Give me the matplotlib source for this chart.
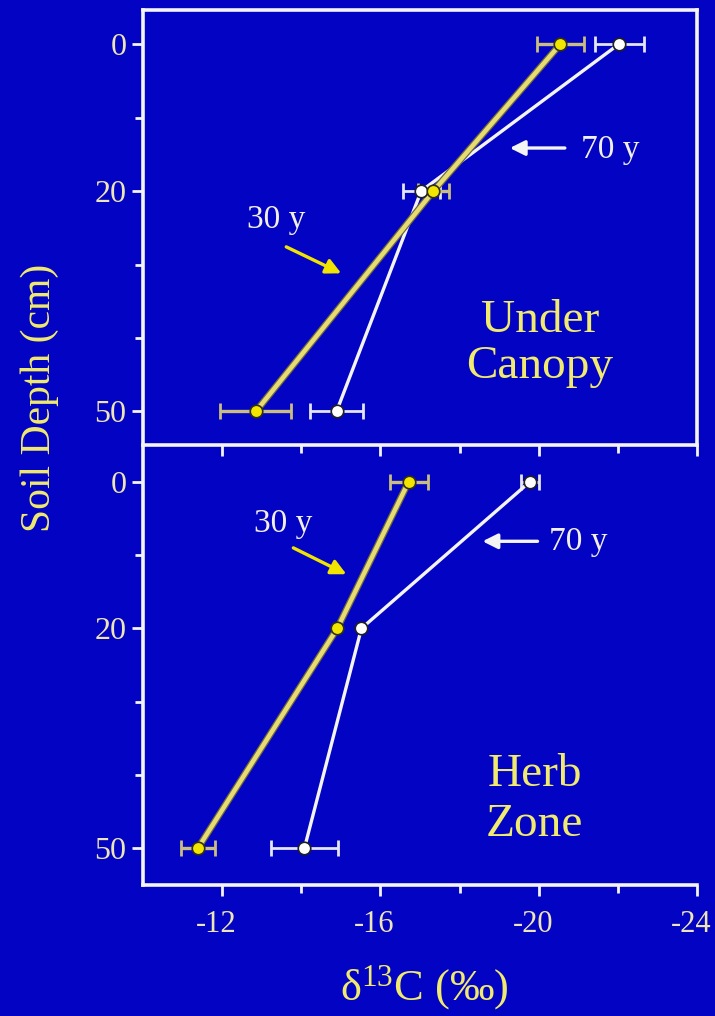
import matplotlib
matplotlib.use("Agg")
import matplotlib.pyplot as plt
import matplotlib.patheffects as pe
from matplotlib.ticker import FixedLocator
from matplotlib.transforms import ScaledTranslation

# -----------------------------
# Data
# -----------------------------
depth = [0, 20, 50]

# Under canopy
canopy_30y = [-20.55, -17.34, -12.85]
canopy_30y_err = [0.6, 0.4, 0.9]
canopy_70y = [-22.03, -17.03, -14.89]
canopy_70y_err = [0.62, 0.47, 0.66]

# Herb zone (no visible error bars at 20 cm)
herb_30y = [-16.71, -14.91, -11.39]
herb_30y_err = [0.48, 0.0, 0.44]
herb_70y = [-19.77, -15.52, -14.08]
herb_70y_err = [0.23, 0.0, 0.84]

x_ticks = [-12, -16, -20, -24]
x_minor = [-14, -18, -22]
y_ticks = [0, 20, 50]
y_minor = [10, 30, 40]

# -----------------------------
# Style
# -----------------------------
BG = "#0303C4"
YEL_LINE = "#E6DC72"
YEL_ERR = "#C9BE80"
YEL_MARK = "#F2E600"
WHITE = "#F4F4F4"
TXT_YEL = "#F0EA6E"
TICK_TXT = "#EDE6B4"
ANN_TXT = "#F2F0E4"

plt.rcParams["font.family"] = ["Liberation Serif", "DejaVu Serif"]
plt.rcParams["mathtext.default"] = "regular"

fig = plt.figure(figsize=(7.15, 10.16), dpi=100, facecolor=BG)

W, H = 715.0, 1016.0
ax_top = fig.add_axes([143 / W, 1 - 445 / H, 554 / W, 435 / H])
ax_bot = fig.add_axes([143 / W, 1 - 885 / H, 554 / W, 438 / H])


def style_axes(ax, ylim, show_xlabels, box):
    ax.set_facecolor("none")
    ax.set_xlim(-10, -24)
    ax.set_ylim(*ylim)
    for side in ["left", "right", "top", "bottom"]:
        ax.spines[side].set_color(WHITE)
        ax.spines[side].set_linewidth(2.6)
    if not box:
        ax.spines["right"].set_visible(False)
        ax.spines["top"].set_visible(False)
    ax.xaxis.set_major_locator(FixedLocator(x_ticks))
    ax.xaxis.set_minor_locator(FixedLocator(x_minor))
    ax.yaxis.set_major_locator(FixedLocator(y_ticks))
    ax.yaxis.set_minor_locator(FixedLocator(y_minor))
    ax.tick_params(which="both", direction="out", color=WHITE, width=2,
                   top=False, right=False)
    ax.tick_params(which="major", length=8)
    ax.tick_params(which="minor", length=6)
    ax.tick_params(axis="y", labelsize=23, labelcolor=TICK_TXT, pad=4)
    ax.tick_params(axis="x", labelsize=22, labelcolor=TICK_TXT, pad=10,
                   labelbottom=show_xlabels)
    ax.set_xticklabels([str(v) for v in x_ticks])
    # reference labels sit a little left of their ticks
    shift = ScaledTranslation(-0.06, 0, fig.dpi_scale_trans)
    for lab in ax.get_xticklabels():
        lab.set_transform(lab.get_transform() + shift)


def draw_series(ax, x30, e30, x70, e70):
    # 70 y (white)
    keep = [i for i, e in enumerate(e70) if e > 0]
    ax.errorbar([x70[i] for i in keep], [depth[i] for i in keep],
                xerr=[e70[i] for i in keep], fmt="none", ecolor="#E4E4F4",
                elinewidth=2, capsize=6, capthick=2, zorder=3)
    ax.plot(x70, depth, color=WHITE, lw=2.4, zorder=4)
    ax.plot(x70, depth, "o", ms=9, mfc="white", mec="#202020", mew=1.2,
            zorder=6)
    # 30 y (yellow)
    keep = [i for i, e in enumerate(e30) if e > 0]
    ax.errorbar([x30[i] for i in keep], [depth[i] for i in keep],
                xerr=[e30[i] for i in keep], fmt="none", ecolor=YEL_ERR,
                elinewidth=2.4, capsize=6, capthick=2, zorder=3)
    ax.plot(x30, depth, color=YEL_LINE, lw=3.2, zorder=5,
            path_effects=[pe.Stroke(linewidth=5, foreground="#6E6840"),
                          pe.Normal()])
    ax.plot(x30, depth, "o", ms=9, mfc=YEL_MARK, mec="#303018", mew=1.2,
            zorder=7)


def arrow(ax, tail, head, color):
    ax.annotate("", xy=head, xytext=tail,
                arrowprops=dict(arrowstyle="-|>,head_length=0.9,head_width=0.45",
                                color=color, lw=2.4, shrinkA=0, shrinkB=0))


# -----------------------------
# Top panel: Under Canopy
# -----------------------------
style_axes(ax_top, (54.56, -4.63), show_xlabels=False, box=True)
draw_series(ax_top, canopy_30y, canopy_30y_err, canopy_70y, canopy_70y_err)

ax_top.text(-21.06, 14.4, "70 y", color=ANN_TXT, fontsize=24,
            ha="left", va="center")
arrow(ax_top, (-20.66, 14.15), (-19.27, 14.15), WHITE)
ax_top.text(-12.63, 23.9, "30 y", color=ANN_TXT, fontsize=24,
            ha="left", va="center")
arrow(ax_top, (-13.62, 27.6), (-15.01, 31.2), "#F0E400")
ax_top.text(-20.03, 40.8, "Under\nCanopy", color=TXT_YEL, fontsize=34,
            ha="center", va="center", linespacing=1.12)

# -----------------------------
# Bottom panel: Herb Zone
# -----------------------------
style_axes(ax_bot, (55.05, -4.78), show_xlabels=True, box=False)
draw_series(ax_bot, herb_30y, herb_30y_err, herb_70y, herb_70y_err)

ax_bot.text(-12.81, 5.7, "30 y", color=ANN_TXT, fontsize=24,
            ha="left", va="center")
arrow(ax_bot, (-13.80, 9.0), (-15.14, 12.6), "#F0E400")
ax_bot.text(-20.25, 8.1, "70 y", color=ANN_TXT, fontsize=24,
            ha="left", va="center")
arrow(ax_bot, (-19.97, 8.1), (-18.58, 8.1), WHITE)
ax_bot.text(-19.9, 43.4, "Herb\nZone", color=TXT_YEL, fontsize=34,
            ha="center", va="center", linespacing=1.25)

# -----------------------------
# Shared axis labels
# -----------------------------
fig.text(40 / W, 1 - 398 / H, "Soil Depth (cm)", rotation=90,
         color=TXT_YEL, fontsize=30, ha="center", va="center")
fig.text(424 / W, 1 - 988 / H, "δ$^{13}$C (‰)", color=TXT_YEL,
         fontsize=32, ha="center", va="center")

fig.savefig("out.png", dpi=100, facecolor=BG)
